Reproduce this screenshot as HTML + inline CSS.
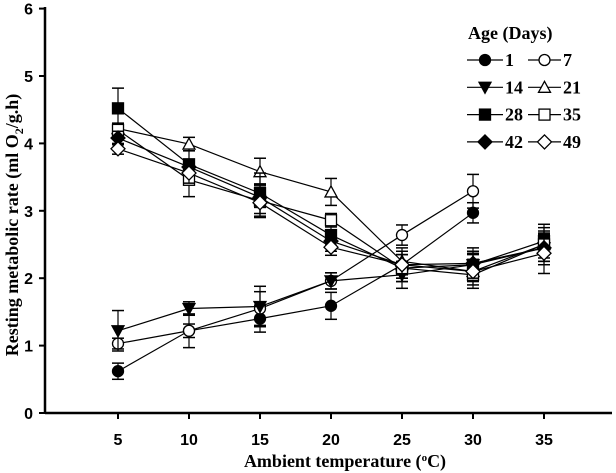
<!DOCTYPE html>
<html><head><meta charset="utf-8"><style>
html,body{margin:0;padding:0;background:#fff}
svg{display:block}
.tk{font-family:"Liberation Sans",sans-serif;font-weight:bold;font-size:16px}
.ti{font-family:"Liberation Serif",serif;font-weight:bold;font-size:18px}
.lg{font-family:"Liberation Serif",serif;font-weight:bold;font-size:18px}
</style></head><body>
<svg id="chart" width="616" height="473" xmlns="http://www.w3.org/2000/svg"></svg>
<script>
const temps=[5,10,15,20,25,30,35];
const xTicks=[5,10,15,20,25,30,35];
const yTicks=[0,1,2,3,4,5,6];
const ages=['1','7','14','21','28','35','42','49'];
const d1=[0.62,1.22,1.40,1.59,2.20,2.97];
const d7=[1.03,1.22,1.55,1.96,2.64,3.29];
const d14=[1.22,1.55,1.58,1.96,2.05,2.20,2.45];
const d21=[4.22,3.99,3.58,3.28,2.25,2.10,2.50];
const d28=[4.52,3.69,3.26,2.64,2.15,2.20,2.55];
const d35=[4.20,3.46,3.15,2.86,2.15,2.05,2.50];
const d42=[4.08,3.65,3.20,2.55,2.20,2.22,2.45];
const d49=[3.92,3.56,3.12,2.46,2.20,2.10,2.37];
const e1=[0.12,0.1,0.2,0.2,0.2,0.15];
const e7=[0.08,0.25,0.25,0.12,0.15,0.25];
const e14=[0.3,0.1,0.3,0.12,0.2,0.25,0.2];
const e21=[0.08,0.1,0.2,0.2,0.2,0.25,0.3];
const e28=[0.3,0.2,0.3,0.15,0.2,0.2,0.2];
const e35=[0.1,0.25,0.25,0.1,0.2,0.15,0.2];
const e42=[0.1,0.1,0.15,0.15,0.2,0.15,0.2];
const e49=[0.08,0.15,0.2,0.12,0.2,0.1,0.3];
const series=[d1,d7,d14,d21,d28,d35,d42,d49];
const errs=[e1,e7,e14,e21,e28,e35,e42,e49];
const shapes=['circle','circle','tri','tri','square','square','diamond','diamond'];
const fills=['#000','#fff','#000','#fff','#000','#fff','#000','#fff'];

const NS='http://www.w3.org/2000/svg';
const svg=document.getElementById('chart');
const X=t=>118+14.2*(t-5);
const Y=v=>413-67.4*v;
function mk(tag,attrs,parent){const e=document.createElementNS(NS,tag);for(const k in attrs)e.setAttribute(k,attrs[k]);(parent||svg).appendChild(e);return e;}

const ax=mk('line',{x1:45,y1:413,x2:612,y2:413,stroke:'#000','stroke-width':2.5});


const ay=mk('line',{x1:45,y1:7,x2:45,y2:414,stroke:'#000','stroke-width':2.5});


xTicks.forEach(t=>{
  mk('line',{x1:X(t),y1:413,x2:X(t),y2:419,stroke:'#000','stroke-width':2});
  const tx=mk('text',{x:X(t),y:445,'text-anchor':'middle',class:'tk'});tx.textContent=t;
  
  
});
yTicks.forEach(v=>{
  mk('line',{x1:39,y1:Y(v),x2:45,y2:Y(v),stroke:'#000','stroke-width':2});
  const tx=mk('text',{x:33,y:Y(v)+6,'text-anchor':'end',class:'tk'});tx.textContent=v;
  
  
});
const xt=mk('text',{x:345,y:467,'text-anchor':'middle',class:'ti'});
xt.innerHTML='Ambient temperature  (<tspan dy="-6" font-size="11">o</tspan><tspan dy="6">C)</tspan>';


const yt=mk('text',{x:0,y:0,'text-anchor':'middle',class:'ti',transform:'translate(18,225) rotate(-90)'});
yt.innerHTML='Resting metabolic rate (ml O<tspan dy="5" font-size="12">2</tspan><tspan dy="-5">/g.h)</tspan>';



function marker(shape,cx,cy,fill,g){
  const a={fill:fill,stroke:'#000','stroke-width':1.3};
  if(shape==='circle')return mk('circle',Object.assign({cx:cx,cy:cy,r:5.5},a),g);
  if(shape==='square')return mk('rect',Object.assign({x:cx-5.5,y:cy-5.5,width:11,height:11},a),g);
  if(shape==='tri'){return fill==='#000'?mk('polygon',Object.assign({points:`${cx-6},${cy-5} ${cx+6},${cy-5} ${cx},${cy+6}`},a),g):mk('polygon',Object.assign({points:`${cx-6},${cy+5} ${cx+6},${cy+5} ${cx},${cy-6}`},a),g);}
  return mk('polygon',Object.assign({points:`${cx},${cy-7} ${cx+7},${cy} ${cx},${cy+7} ${cx-7},${cy}`},a),g);
}
series.forEach((s,i)=>{
  const g=mk('g',{});
  
  
  mk('polyline',{points:s.map((v,j)=>X(temps[j])+','+Y(v)).join(' '),fill:'none',stroke:'#000','stroke-width':1.2},g);
  s.forEach((v,j)=>{
    const e=errs[i][j],x=X(temps[j]);
    mk('line',{x1:x,y1:Y(v-e),x2:x,y2:Y(v+e),stroke:'#000','stroke-width':1.2},g);
    mk('line',{x1:x-6,y1:Y(v+e),x2:x+6,y2:Y(v+e),stroke:'#000','stroke-width':1.5},g);
    mk('line',{x1:x-6,y1:Y(v-e),x2:x+6,y2:Y(v-e),stroke:'#000','stroke-width':1.5},g);
  });
  s.forEach((v,j)=>{
    const m=marker(shapes[i],X(temps[j]),Y(v),fills[i],g);
    
    
  });
});
const lg=mk('g',{});


const lt=mk('text',{x:468,y:39,class:'lg'},lg);lt.textContent='Age (Days)';


ages.forEach((a,i)=>{
  const col=i%2,row=Math.floor(i/2);
  const y=60+row*27.3;
  const x0=col?528:467,x1=col?561:503;
  const ge=mk('g',{},lg);
  
  
  mk('line',{x1:x0,y1:y,x2:x1,y2:y,stroke:'#000','stroke-width':1.2},ge);
  marker(shapes[i],(x0+x1)/2,y,fills[i],ge);
  const t=mk('text',{x:x1+2,y:y+6,class:'lg'},ge);t.textContent=a;
});
</script>
</body></html>
